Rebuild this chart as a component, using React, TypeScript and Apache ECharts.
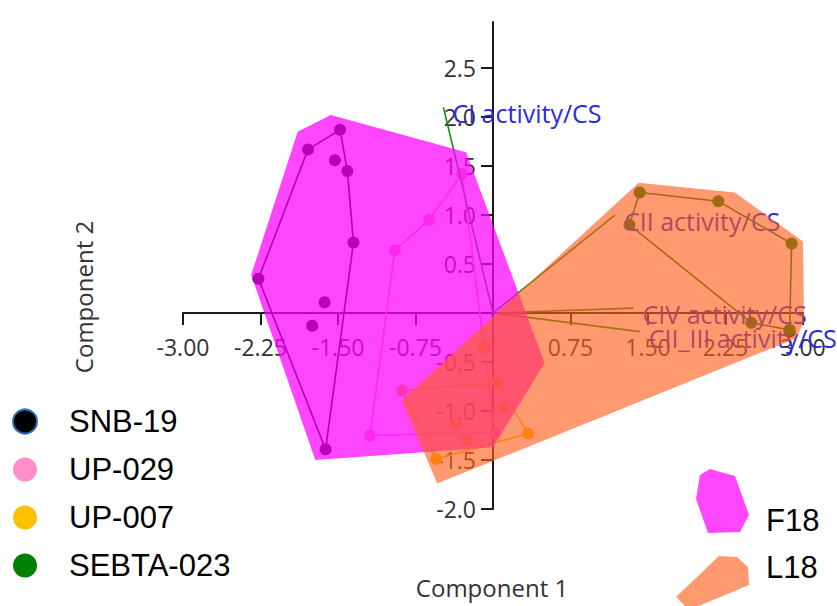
import React, { useEffect, useRef } from 'react';
import * as echarts from 'echarts';

// ---- axis ticks / labels ----
const X_MIN = -3;
const X_MAX = 3;
const Y_MIN = -2;
const Y_MAX = 2.97;
const X_TICKS = [-3, -2.25, -1.5, -0.75, 0, 0.75, 1.5, 2.25, 3];
const X_LABELS = [-3, -2.25, -1.5, -0.75, 0.75, 1.5, 2.25, 3];
const Y_TICKS = [-2, -1.5, -1, -0.5, 0, 0.5, 1, 1.5, 2, 2.5];
const Y_LABELS = [-2, -1.5, -1, -0.5, 0.5, 1, 1.5, 2, 2.5];

// ---- sample groups ----
const GROUP_NAMES = ['SNB-19', 'UP-029', 'UP-007', 'SEBTA-023'];
const GROUP_COLORS = ['#000000', '#ff8fc8', '#ffc000', '#008000'];

const SNB19_POINTS = [
  [-1.48, 1.87], [-1.79, 1.67], [-1.53, 1.56], [-1.41, 1.45], [-1.35, 0.72],
  [-2.27, 0.35], [-1.63, 0.11], [-1.75, -0.13], [-1.62, -1.39], [2.87, -0.19],
];
const SNB19_HULL = [
  [-1.79, 1.67], [-1.48, 1.87], [-1.41, 1.45], [-1.35, 0.72], [-1.62, -1.39], [-2.27, 0.35],
];

const UP029_POINTS = [
  [-0.30, 1.42], [-0.62, 0.95], [-0.95, 0.64], [-1.19, -1.25], [-0.08, -0.34], [0.02, -1.22],
];
const UP029_HULL = [
  [-0.30, 1.42], [0.02, -1.22], [-1.19, -1.25], [-0.95, 0.64], [-0.62, 0.95],
];

const UP007_POINTS = [
  [-0.88, -0.79], [0.04, -0.71], [0.10, -0.96], [0.34, -1.23], [-0.25, -1.30],
  [-0.55, -1.49], [-0.36, -1.13], [-0.08, -0.36],
];
const UP007_HULL = [[-0.88, -0.79], [0.04, -0.71], [0.34, -1.23], [-0.55, -1.49]];

const SEBTA023_POINTS = [
  [1.42, 1.23], [2.18, 1.14], [2.89, 0.71], [1.32, 0.90], [2.50, -0.10], [2.87, -0.17],
];
const SEBTA023_HULL = [
  [1.42, 1.23], [2.18, 1.14], [2.89, 0.71], [2.87, -0.17], [2.50, -0.10], [1.32, 0.90],
];

const GROUP_POINTS = [SNB19_POINTS, UP029_POINTS, UP007_POINTS, SEBTA023_POINTS];
const GROUP_HULLS = [SNB19_HULL, UP029_HULL, UP007_HULL, SEBTA023_HULL];

// ---- condition hulls ----
const F18_HULL = [
  [-1.57, 2.02], [-0.26, 1.64], [0.50, -0.51], [0.0, -1.37], [-1.72, -1.50], [-2.34, 0.39], [-1.89, 1.85],
];
const L18_HULL = [
  [1.41, 1.33], [2.34, 1.23], [3.0, 0.73], [3.01, -0.09], [2.93, -0.26], [-0.54, -1.74], [-0.88, -0.89],
];
const F18_FILL = 'rgba(255,0,255,0.725)';
const L18_FILL = 'rgba(255,93,28,0.63)';

// ---- loadings ----
const LOADING_NAMES = ['CI activity/CS', 'CII activity/CS', 'CIV activity/CS', 'CII_III activity/CS'];
const LOADING_X = [-0.48, 1.18, 1.36, 1.42];
const LOADING_Y = [2.10, 1.00, 0.05, -0.19];

const TICK_FONT = '"Open Sans", sans-serif';
const LEGEND_FONT = '"Liberation Sans", Arial, sans-serif';

const W = 837;
const H = 606;
const GRID = { left: 183, right: 34, top: 22, bottom: 97 };

function hullSeries(name: string, hull: number[][], fill: string, z: number) {
  return {
    type: 'custom',
    name,
    coordinateSystem: 'cartesian2d',
    data: hull,
    z,
    silent: true,
    clip: false,
    renderItem: (params: any, api: any) => {
      if (params.dataIndex !== 0) return null;
      const pts = hull.map((p) => api.coord(p));
      return { type: 'polygon', shape: { points: pts }, style: { fill, stroke: 'none' } };
    },
  };
}

function outlineSeries(name: string, hull: number[][], color: string) {
  return {
    type: 'custom',
    name: name + ' hull',
    coordinateSystem: 'cartesian2d',
    data: hull,
    z: 2,
    silent: true,
    renderItem: (params: any, api: any) => {
      if (params.dataIndex !== 0) return null;
      const pts = hull.map((p) => api.coord(p));
      return {
        type: 'polygon',
        shape: { points: pts },
        style: { fill: 'none', stroke: color, lineWidth: 1.6 },
      };
    },
  };
}

export default function App() {
  const ref = useRef<HTMLDivElement>(null);
  useEffect(() => {
    if (!ref.current) return;
    const chart = echarts.init(ref.current, null, { renderer: 'svg' });

    const gridH = H - GRID.top - GRID.bottom;
    const gridW = W - GRID.left - GRID.right;
    // place the axes through the origin (offset from the grid edge)
    const xAxisOffset = -gridH * (0 - Y_MIN) / (Y_MAX - Y_MIN);
    const yAxisOffset = -gridW * (0 - X_MIN) / (X_MAX - X_MIN);

    const series: any[] = [];
    GROUP_NAMES.forEach((n, i) => {
      series.push(outlineSeries(n, GROUP_HULLS[i], GROUP_COLORS[i]));
    });
    GROUP_NAMES.forEach((n, i) => {
      series.push({
        type: 'scatter',
        name: n,
        data: GROUP_POINTS[i],
        symbolSize: 12,
        itemStyle: { color: GROUP_COLORS[i], opacity: 1 },
        z: 2,
      });
    });
    series.push({
      type: 'custom',
      name: 'loadings',
      coordinateSystem: 'cartesian2d',
      data: LOADING_X.map((x, i) => [x, LOADING_Y[i]]),
      z: 3,
      silent: true,
      clip: false,
      renderItem: (params: any, api: any) => {
        const i = params.dataIndex;
        const o = api.coord([0, 0]);
        const e = api.coord([api.value(0), api.value(1)]);
        return {
          type: 'group',
          children: [
            {
              type: 'line',
              shape: { x1: o[0], y1: o[1], x2: e[0], y2: e[1] },
              style: { stroke: '#119111', lineWidth: 1.6 },
            },
            {
              type: 'text',
              x: e[0] + 9,
              y: e[1] + 6,
              style: {
                text: LOADING_NAMES[i],
                fill: '#2b2bdb',
                font: '25px ' + TICK_FONT,
                align: 'left',
                verticalAlign: 'middle',
                textAlign: 'left',
                textVerticalAlign: 'middle',
              },
            },
          ],
        };
      },
    });
    series.push(hullSeries('F18', F18_HULL, F18_FILL, 5));
    series.push(hullSeries('L18', L18_HULL, L18_FILL, 6));

    const axisLine = { show: true, onZero: false, lineStyle: { color: '#1a1a1a', width: 2 } };

    chart.setOption({
      animation: false,
      grid: { ...GRID, containLabel: false },
      xAxis: {
        type: 'value',
        min: X_MIN,
        max: X_MAX,
        position: 'bottom',
        offset: xAxisOffset,
        axisLine,
        axisTick: { show: true, length: 12, customValues: X_TICKS, lineStyle: { color: '#1a1a1a', width: 2 } },
        axisLabel: {
          customValues: X_LABELS,
          formatter: (v: number) => v.toFixed(2),
          fontSize: 23,
          fontFamily: TICK_FONT,
          color: '#333',
          margin: 22,
        },
        splitLine: { show: false },
      },
      yAxis: {
        type: 'value',
        min: Y_MIN,
        max: Y_MAX,
        position: 'left',
        offset: yAxisOffset,
        axisLine,
        axisTick: { show: true, length: 12, customValues: Y_TICKS, lineStyle: { color: '#1a1a1a', width: 2 } },
        axisLabel: {
          customValues: Y_LABELS,
          formatter: (v: number) => v.toFixed(1),
          fontSize: 23,
          fontFamily: TICK_FONT,
          color: '#333',
          margin: 17,
        },
        splitLine: { show: false },
      },
      legend: {
        orient: 'vertical',
        left: 12,
        top: 406,
        height: 260,
        padding: 0,
        itemWidth: 24,
        itemHeight: 24,
        itemGap: 17,
        selectedMode: false,
        data: [
          { name: 'SNB-19', itemStyle: { borderColor: '#2f6fb8', borderWidth: 2 } },
          'UP-029',
          'UP-007',
          'SEBTA-023',
        ],
        textStyle: {
          fontSize: 31,
          fontFamily: LEGEND_FONT,
          color: '#000',
          padding: [0, 0, 0, 27],
        },
      },
      graphic: [
        {
          type: 'text',
          x: 492,
          y: 587,
          style: {
            text: 'Component 1',
            font: '24px ' + TICK_FONT,
            fill: '#333',
            align: 'center',
            verticalAlign: 'middle',
          },
        },
        {
          type: 'text',
          x: 83,
          y: 297,
          rotation: Math.PI / 2,
          style: {
            text: 'Component 2',
            font: '24px ' + TICK_FONT,
            fill: '#333',
            align: 'center',
            verticalAlign: 'middle',
          },
        },
        {
          type: 'polygon',
          shape: { points: [[710, 469], [735, 476], [749, 515], [740, 532], [708, 533], [696, 499], [700, 475]] },
          style: { fill: F18_FILL },
        },
        {
          type: 'polygon',
          shape: { points: [[719, 556], [737, 557], [748, 567], [749, 585], [689, 610], [676, 597]] },
          style: { fill: L18_FILL },
        },
        {
          type: 'text',
          x: 766,
          y: 520,
          style: { text: 'F18', font: '31px ' + LEGEND_FONT, fill: '#000', align: 'left', verticalAlign: 'middle' },
        },
        {
          type: 'text',
          x: 766,
          y: 567,
          style: { text: 'L18', font: '31px ' + LEGEND_FONT, fill: '#000', align: 'left', verticalAlign: 'middle' },
        },
      ],
      series,
    });
    return () => chart.dispose();
  }, []);
  return (
    <div
      ref={ref}
      style={{ position: 'fixed', left: 0, top: 0, width: W, height: H, background: '#fff' }}
    />
  );
}
